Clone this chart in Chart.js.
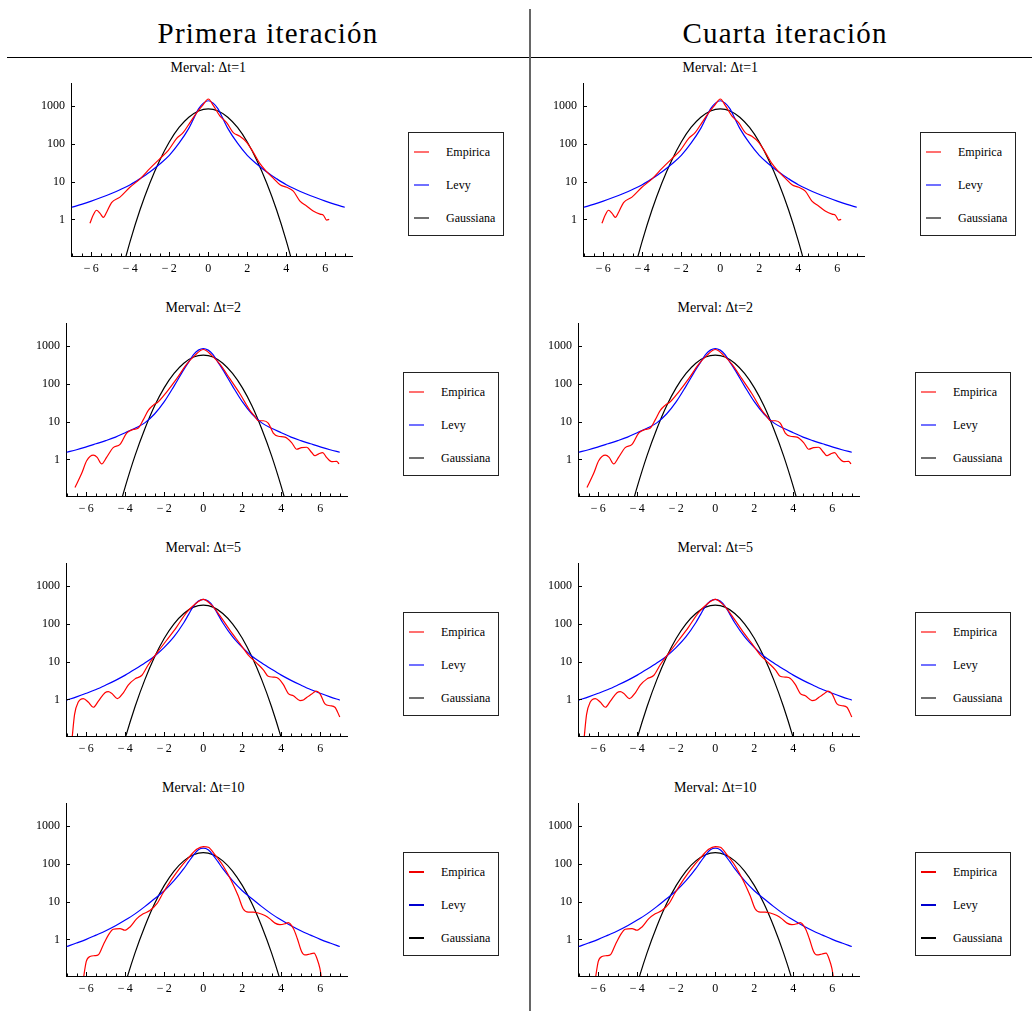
<!DOCTYPE html>
<html>
<head>
<meta charset="utf-8">
<script src="https://cdn.jsdelivr.net/npm/chart.js@4.4.1/dist/chart.umd.min.js"></script>
<style>
  body { margin: 0; background: #fff; }
  #page { position: relative; width: 1032px; height: 1011px; overflow: hidden;
          font-family: 'Liberation Serif', 'Times New Roman', serif; color: #000; }
  .head { position: absolute; top: 19px; font-size: 29px; line-height: 28px; text-align: center; letter-spacing: 1.2px; }
  .rule-h { position: absolute; left: 7px; top: 57px; width: 1025px; height: 1px; background: #000; }
  .rule-v { position: absolute; left: 529px; top: 9px; width: 2px; height: 1002px; background: #666; }
  .ptitle { position: absolute; width: 200px; font-size: 14px; line-height: 16px; text-align: center; }
  .plot { position: absolute; }
  .legend { position: absolute; width: 96px; height: 104px; box-sizing: border-box; border: 1px solid #222; font-size: 12px; }
  .legend .row { position: absolute; left: 0; width: 100%; height: 14px; }
  .legend .key { position: absolute; left: 5px; top: 6px; width: 15px; height: 2px; }
  .legend .lbl { position: absolute; left: 37px; top: 0; line-height: 14px; white-space: nowrap; }
</style>
</head>
<body>
<div id="page">
  <div class="rule-h"></div>
  <div class="rule-v"></div>
</div>
<script>
// axis ticks
const xTickValues = [-6, -4, -2, 0, 2, 4, 6];
const yTickValues = [1, 10, 100, 1000];
const titles = ['Merval: Δt=1', 'Merval: Δt=2', 'Merval: Δt=5', 'Merval: Δt=10'];
const headers = ['Primera iteración', 'Cuarta iteración'];
const seriesNames = ['Empirica', 'Levy', 'Gaussiana'];

// shared x positions of the fitted curves
const levyX = [-7, -6.5, -6, -5.5, -5, -4.5, -4, -3.5, -3, -2.5, -2, -1.5, -1, -0.75, -0.5, -0.25, 0,
               0.25, 0.5, 0.75, 1, 1.5, 2, 2.5, 3, 3.5, 4, 4.5, 5, 5.5, 6, 6.5, 7];
const gaussX = [-4.5, -4, -3.5, -3, -2.5, -2, -1.5, -1, -0.5, 0, 0.5, 1, 1.5, 2, 2.5, 3, 3.5, 4, 4.5];

// Δt=1
const emp1X = [-6.07, -5.9, -5.73, -5.55, -5.38, -5.2, -4.96, -4.53, -4.02, -3.5, -2.99, -2.48, -2.05, -1.62, -1.28,
               -0.94, -0.6, -0.26, 0, 0.26, 0.6, 0.94, 1.28, 1.62, 1.97, 2.3, 2.65, 2.99, 3.33, 3.68,
               4.02, 4.36, 4.7, 5.04, 5.38, 5.73, 5.9, 6.07, 6.2];
const emp1Y = [0.79, 1.3, 1.75, 1.45, 1.13, 1.6, 2.8, 3.9, 7.1, 11.9, 22.6, 41, 68, 141, 203,
               369, 670, 1110, 1560, 1040, 550, 370, 200, 160, 111, 61, 30, 18.5, 12.4, 8.3,
               7.1, 5.6, 3.06, 2.27, 1.68, 1.38, 1.3, 0.96, 1.0];
const levy1Y = [2.1, 2.5, 3.05, 3.8, 4.8, 6.2, 8.3, 12, 18, 29, 50, 105, 260, 470, 850, 1210, 1400,
                1210, 850, 470, 260, 105, 50, 29, 18, 12, 8.3, 6.2, 4.8, 3.8, 3.05, 2.5, 2.1];
const gauss1Y = [0.031, 0.27, 1.8, 9.1, 36, 113, 274, 514, 750, 850, 750, 514, 274, 113, 36, 9.1, 1.8, 0.27, 0.031];

// Δt=2
const emp2X = [-6.58, -6.24, -5.98, -5.64, -5.44, -5.21, -4.96, -4.62, -4.27, -3.93, -3.59, -3.33, -3.08, -2.82, -2.56,
               -2.31, -1.88, -1.37, -0.85, -0.43, 0, 0.43, 0.85, 1.37, 1.88, 2.39, 2.65, 2.82, 3.08, 3.33,
               3.59, 3.85, 4.19, 4.53, 4.79, 5.04, 5.3, 5.56, 5.73, 5.9, 6.12, 6.32, 6.58, 6.84, 6.96];
const emp2Y = [0.18, 0.42, 0.92, 1.3, 1.13, 0.76, 1.13, 2.05, 2.5, 5.0, 6.2, 6.8, 11.2, 20, 27.5,
               33.6, 61, 136, 334, 575, 820, 575, 334, 136, 55, 20, 13.7, 10.6, 10.6, 9.2,
               5.0, 4.1, 3.9, 2.8, 1.86, 2.05, 2.1, 1.52, 1.25, 1.38, 1.52, 1.13, 0.87, 0.89, 0.76];
const levy2Y = [1.55, 1.8, 2.15, 2.6, 3.15, 3.9, 5.1, 6.7, 9.3, 16, 34, 88, 240, 380, 600, 790, 870,
                790, 600, 380, 240, 88, 34, 16, 9.3, 6.7, 5.1, 3.9, 3.15, 2.6, 2.15, 1.8, 1.55];
const gauss2Y = [0.023, 0.19, 1.26, 6.4, 26, 80, 190, 356, 520, 585, 520, 356, 190, 80, 26, 6.4, 1.26, 0.19, 0.023];

// Δt=5
const emp3X = [-6.74, -6.6, -6.41, -6.15, -5.9, -5.64, -5.38, -5.04, -4.87, -4.7, -4.41, -4.1, -3.85, -3.5, -3.16,
               -2.82, -2.39, -1.88, -1.37, -0.85, -0.43, 0, 0.43, 0.85, 1.37, 1.88, 2.31, 2.74, 3.08, 3.33,
               3.59, 3.85, 4.1, 4.36, 4.62, 4.96, 5.13, 5.3, 5.56, 5.78, 5.98, 6.24, 6.5, 6.75, 7.0];
const emp3Y = [0.08, 0.4, 0.85, 1.05, 0.85, 0.62, 0.9, 1.5, 1.6, 1.45, 1.05, 1.5, 2.4, 3.5, 4.3,
               8.3, 16.7, 37, 83, 203, 334, 450, 315, 167, 68, 30, 15, 9.2, 6.1, 4.1,
               3.9, 3.6, 2.5, 1.43, 1.25, 0.93, 0.96, 1.13, 1.38, 1.65, 1.43, 0.76, 0.68, 0.62, 0.34];
const levy3Y = [0.96, 1.17, 1.45, 1.83, 2.4, 3.2, 4.4, 6.3, 9.2, 14, 24, 46, 108, 180, 295, 405, 450,
                405, 295, 180, 108, 46, 24, 14, 9.2, 6.3, 4.4, 3.2, 2.4, 1.83, 1.45, 1.17, 0.96];
const gauss3Y = [0.011, 0.095, 0.64, 3.3, 13.3, 42, 101, 190, 279, 315, 279, 190, 101, 42, 13.3, 3.3, 0.64, 0.095, 0.011];

// Δt=10
const emp4X = [-6.18, -6.0, -5.81, -5.56, -5.38, -5.13, -4.87, -4.62, -4.27, -4.02, -3.76, -3.42, -3.08, -2.74, -2.39,
               -2.05, -1.62, -1.2, -0.77, -0.34, 0, 0.26, 0.6, 1.03, 1.45, 1.79, 2.05, 2.31, 2.56, 2.82,
               3.16, 3.42, 3.68, 3.93, 4.19, 4.36, 4.62, 4.82, 5.04, 5.21, 5.47, 5.68, 5.85, 5.98, 6.1];
const emp4Y = [0.07, 0.26, 0.35, 0.37, 0.39, 0.71, 1.3, 1.86, 1.94, 1.75, 2.14, 3.5, 4.76, 5.8, 8.7,
               17.5, 39, 78, 143, 245, 290, 278, 175, 87, 35, 14.3, 6.4, 5.3, 5.3, 5.0,
               4.3, 3.5, 2.7, 2.46, 2.6, 2.8, 1.94, 1.06, 0.48, 0.39, 0.41, 0.43, 0.29, 0.17, 0.07];
const levy4Y = [0.65, 0.8, 1.0, 1.3, 1.7, 2.3, 3.25, 4.75, 7.4, 12, 19.5, 36, 75, 115, 172, 238, 262,
                238, 172, 115, 75, 36, 19.5, 12, 7.4, 4.75, 3.25, 2.3, 1.7, 1.3, 1.0, 0.8, 0.65];
const gauss4Y = [0.008, 0.067, 0.44, 2.2, 8.8, 27, 65, 121, 176, 200, 176, 121, 65, 27, 8.8, 2.2, 0.44, 0.067, 0.008];

const panels = [
  { empX: emp1X, empY: emp1Y, levyY: levy1Y, gaussY: gauss1Y },
  { empX: emp2X, empY: emp2Y, levyY: levy2Y, gaussY: gauss2Y },
  { empX: emp3X, empY: emp3Y, levyY: levy3Y, gaussY: gauss3Y },
  { empX: emp4X, empY: emp4Y, levyY: levy4Y, gaussY: gauss4Y }
];

Chart.defaults.font.family = "'Liberation Serif', 'Times New Roman', serif";
Chart.defaults.font.size = 12;
Chart.defaults.color = '#000';

const pts = (xs, ys) => xs.map((x, i) => ({ x: x, y: ys[i] }));

// Mathematica style ticks pointing into the plot
const inwardTicks = {
  id: 'inwardTicks',
  afterDraw(chart) {
    const { ctx, chartArea: area, scales: { x, y } } = chart;
    ctx.save();
    ctx.strokeStyle = '#000';
    ctx.lineWidth = 1;
    ctx.beginPath();
    for (let v = -7; v <= 7; v += 0.5) {
      const px = Math.round(x.getPixelForValue(v)) + 0.5;
      const len = xTickValues.includes(v) ? 4 : 2.5;
      ctx.moveTo(px, area.bottom);
      ctx.lineTo(px, area.bottom - len);
    }
    yTickValues.forEach(v => {
      const py = Math.round(y.getPixelForValue(v)) + 0.5;
      ctx.moveTo(area.left, py);
      ctx.lineTo(area.left + 4, py);
    });
    ctx.stroke();
    ctx.restore();
  }
};

const page = document.getElementById('page');

headers.forEach((h, c) => {
  const d = document.createElement('div');
  d.className = 'head';
  d.style.left = (c === 0 ? 8 : 530) + 'px';
  d.style.width = (c === 0 ? 520 : 510) + 'px';
  d.textContent = h;
  page.appendChild(d);
});

const lineColors = ['#ff0000', '#0000ff', '#000000'];
const softKeys = ['#ff7070', '#7070ff', '#707070'];
const hardKeys = ['#f00000', '#0000d0', '#000000'];

for (let c = 0; c < 2; c++) {
  panels.forEach((p, k) => {
    const dx = c * 512;
    const shift = k === 0 ? 0 : -5;
    const axisX = 71 + shift + dx;
    const topY = 80 + 240 * k;
    const zeroX = axisX + 137.3;

    const t = document.createElement('div');
    t.className = 'ptitle';
    t.style.left = (zeroX - 100) + 'px';
    t.style.top = (59.5 + 240 * k) + 'px';
    t.textContent = titles[k];
    page.appendChild(t);

    const box = document.createElement('div');
    box.className = 'plot';
    box.style.left = (axisX - 45) + 'px';
    box.style.top = (topY - 10) + 'px';
    const cv = document.createElement('canvas');
    cv.width = 336;
    cv.height = 216;
    box.appendChild(cv);
    page.appendChild(box);

    const chart = new Chart(cv, {
      type: 'line',
      data: {
        datasets: [
          { label: seriesNames[0], data: pts(p.empX, p.empY), borderColor: lineColors[0] },
          { label: seriesNames[1], data: pts(levyX, p.levyY), borderColor: lineColors[1] },
          { label: seriesNames[2], data: pts(gaussX, p.gaussY), borderColor: lineColors[2] }
        ]
      },
      options: {
        responsive: false,
        animation: false,
        layout: { padding: { left: 5, top: 10, right: 10, bottom: 5 } },
        plugins: { legend: { display: false }, tooltip: { enabled: false } },
        elements: {
          point: { radius: 0 },
          line: { borderWidth: 1.2, cubicInterpolationMode: 'monotone', fill: false }
        },
        scales: {
          x: {
            type: 'linear',
            min: -7.04,
            max: 7.37,
            afterBuildTicks: s => { s.ticks = xTickValues.map(v => ({ value: v })); },
            afterFit: s => { s.height = 25; },
            grid: { display: false, drawTicks: false },
            border: { display: true, color: '#000', width: 1 },
            ticks: {
              padding: 6, maxRotation: 0, autoSkip: false,
              callback: v => v < 0 ? '\u2212\u2009' + (-v) : String(v)
            }
          },
          y: {
            type: 'logarithmic',
            min: 0.107,
            max: 4090,
            afterBuildTicks: s => { s.ticks = yTickValues.map(v => ({ value: v })); },
            afterFit: s => { s.width = 40; },
            grid: { display: false, drawTicks: false },
            border: { display: true, color: '#000', width: 1 },
            ticks: { padding: 6, autoSkip: false, callback: v => String(v) }
          }
        }
      },
      plugins: [inwardTicks]
    });

    // legend box built from the chart's datasets
    const lg = document.createElement('div');
    lg.className = 'legend';
    lg.style.left = (408 + shift + dx) + 'px';
    lg.style.top = (132 + 240 * k) + 'px';
    const rowCenters = [20, 53, 86];
    const keys = k === 3 ? hardKeys : softKeys;
    chart.data.datasets.forEach((ds, i) => {
      const row = document.createElement('div');
      row.className = 'row';
      row.style.top = (rowCenters[i] - 8) + 'px';
      const key = document.createElement('div');
      key.className = 'key';
      key.style.background = keys[i];
      if (k === 3) { key.style.height = '1.5px'; }
      const lbl = document.createElement('div');
      lbl.className = 'lbl';
      lbl.textContent = ds.label;
      row.appendChild(key);
      row.appendChild(lbl);
      lg.appendChild(row);
    });
    page.appendChild(lg);
  });
}
</script>
</body>
</html>
